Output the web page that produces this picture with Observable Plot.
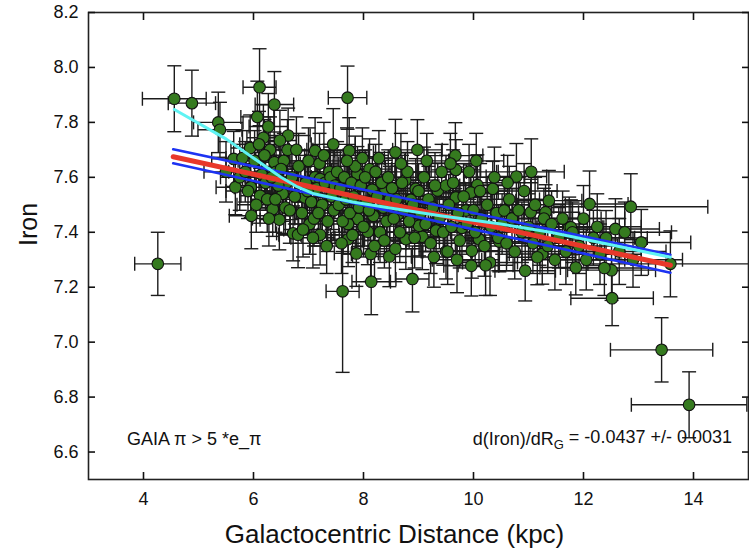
<!DOCTYPE html>
<html><head><meta charset="utf-8">
<script src="https://cdn.jsdelivr.net/npm/d3@7"></script>
<script src="https://cdn.jsdelivr.net/npm/@observablehq/plot@0.6"></script>
<style>body{margin:0;background:#fff} svg{display:block}</style>
</head><body><div id="chart"></div>
<script>
// rows: [distance kpc, iron, distance error, iron error]
const outliers = [
  [4.26,7.285,0.42,0.115],[4.56,7.886,0.58,0.12],[4.88,7.870,0.43,0.12],
  [13.42,6.972,0.93,0.117],[13.92,6.772,1.05,0.12],[13.58,7.285,1.5,0.12],
  [7.71,7.890,0.35,0.115],[7.62,7.185,0.30,0.295],[6.11,7.928,0.30,0.14],
  [6.38,7.865,0.35,0.12],[5.36,7.800,0.45,0.11],[5.39,7.773,0.40,0.10]
];
const innerDisk = [
  [6.07,7.820,0.30,0.13],[6.27,7.785,0.35,0.12],[6.18,7.744,0.30,0.12],[6.63,7.752,0.40,0.10],
  [6.48,7.734,0.30,0.11],[5.94,7.707,0.35,0.12],[5.64,7.667,0.40,0.10],[6.38,7.655,0.30,0.11],
  [5.67,7.564,0.35,0.10],[5.95,7.564,0.30,0.11],[6.12,7.533,0.35,0.10],[5.96,7.460,0.40,0.12],
  [6.35,7.485,0.30,0.10],[6.47,7.446,0.35,0.11],[6.72,7.396,0.30,0.10],[6.81,7.391,0.35,0.12],
  [6.53,7.540,0.30,0.10],[6.93,7.527,0.40,0.11],[7.12,7.697,0.35,0.12],[7.12,7.600,0.30,0.10],
  [7.02,7.430,0.35,0.11],[7.45,7.720,0.40,0.13],[7.21,7.594,0.35,0.10],[7.21,7.391,0.35,0.11],
  [5.50,7.620,0.40,0.11],[5.75,7.600,0.35,0.12],[5.80,7.670,0.30,0.10],
  [6.02,7.66,0.30,0.11],[6.15,7.61,0.35,0.12],[6.22,7.58,0.30,0.10],[6.30,7.70,0.35,0.12],
  [6.41,7.62,0.30,0.11],[6.55,7.66,0.40,0.10],[6.60,7.58,0.35,0.12],[5.85,7.62,0.30,0.11],
  [6.05,7.50,0.35,0.10],[6.25,7.52,0.30,0.12],[6.45,7.57,0.35,0.11],[6.58,7.49,0.30,0.10],
  [6.20,7.68,0.35,0.13],[6.33,7.60,0.30,0.11],[6.10,7.72,0.35,0.12],[5.90,7.55,0.40,0.10],
  [6.50,7.63,0.30,0.11],[6.40,7.52,0.35,0.12],[6.28,7.45,0.30,0.10],[6.62,7.70,0.35,0.11]
];
const solarCircle = [
  [6.70,7.60,0.35,0.11],[6.75,7.53,0.30,0.10],[6.82,7.64,0.35,0.12],[6.88,7.47,0.40,0.11],
  [6.95,7.58,0.30,0.10],[7.00,7.66,0.35,0.12],[7.05,7.51,0.30,0.11],[7.10,7.45,0.35,0.10],
  [7.15,7.56,0.40,0.12],[7.20,7.65,0.35,0.11],[7.25,7.50,0.30,0.10],[7.30,7.58,0.35,0.12],
  [7.35,7.44,0.40,0.11],[7.38,7.62,0.35,0.10],[7.42,7.53,0.30,0.12],[7.46,7.48,0.35,0.11],
  [6.78,7.70,0.30,0.12],[6.90,7.41,0.35,0.10],[7.08,7.38,0.40,0.11],[7.28,7.68,0.35,0.12],
  [7.33,7.35,0.30,0.10],[7.40,7.60,0.35,0.11],[6.66,7.48,0.30,0.12],[6.98,7.55,0.35,0.10],
  [7.18,7.47,0.40,0.11],[7.48,7.57,0.35,0.12],
  [7.74,7.697,0.35,0.12],[8.11,7.630,0.40,0.11],[7.89,7.612,0.35,0.10],[8.40,7.552,0.40,0.11],
  [8.16,7.555,0.35,0.12],[7.90,7.448,0.35,0.10],[7.72,7.430,0.40,0.11],[8.08,7.402,0.35,0.12],
  [7.72,7.375,0.30,0.10],[7.87,7.323,0.40,0.12],[8.13,7.321,0.35,0.10],[8.47,7.312,0.40,0.11],
  [8.14,7.220,0.35,0.12],
  [7.52,7.62,0.35,0.11],[7.55,7.50,0.40,0.10],[7.58,7.56,0.35,0.12],[7.62,7.44,0.40,0.11],
  [7.65,7.60,0.35,0.10],[7.68,7.52,0.40,0.12],[7.75,7.47,0.35,0.11],[7.78,7.58,0.40,0.10],
  [7.82,7.53,0.35,0.12],[7.85,7.64,0.40,0.11],[7.92,7.49,0.35,0.10],[7.95,7.57,0.40,0.12],
  [8.00,7.42,0.35,0.11],[8.03,7.60,0.40,0.10],[8.06,7.51,0.35,0.12],[8.18,7.46,0.40,0.11],
  [8.22,7.62,0.35,0.10],[8.25,7.53,0.40,0.12],[8.30,7.40,0.35,0.11],[8.33,7.58,0.40,0.10],
  [8.36,7.49,0.35,0.12],[8.42,7.44,0.40,0.11],[8.45,7.60,0.35,0.10],[8.48,7.52,0.40,0.12],
  [7.60,7.36,0.35,0.11],[7.80,7.39,0.40,0.10],[8.20,7.35,0.35,0.12],[7.98,7.67,0.40,0.11],
  [8.28,7.67,0.35,0.10],[7.70,7.66,0.40,0.12],[8.10,7.48,0.35,0.11],[8.38,7.37,0.40,0.10]
];
const midDisk = [
  [8.58,7.691,0.40,0.12],[8.98,7.700,0.45,0.11],[8.76,7.589,0.40,0.10],[8.86,7.518,0.45,0.10],
  [8.95,7.558,0.40,0.11],[8.89,7.230,0.30,0.12],[8.63,7.466,0.40,0.10],[8.77,7.375,0.45,0.11],
  [9.07,7.384,0.40,0.12],[9.50,7.330,0.45,0.10],[9.01,7.424,0.40,0.11],[9.32,7.406,0.45,0.12],
  [9.35,7.552,0.40,0.10],[9.50,7.570,0.45,0.11],[9.67,7.679,0.50,0.12],[9.68,7.627,0.45,0.11],
  [10.07,7.572,0.50,0.11],[10.35,7.558,0.50,0.10],[9.68,7.527,0.45,0.11],[9.95,7.545,0.50,0.10],
  [9.86,7.479,0.45,0.10],[9.79,7.416,0.50,0.12],[10.10,7.375,0.50,0.10],[10.47,7.366,0.55,0.11],
  [9.53,7.330,0.45,0.12],[9.97,7.333,0.50,0.10],[9.96,7.278,0.50,0.11],[10.30,7.290,0.50,0.12],
  [8.52,7.56,0.40,0.11],[8.55,7.45,0.45,0.10],[8.60,7.52,0.40,0.12],[8.66,7.40,0.45,0.11],
  [8.70,7.58,0.40,0.10],[8.73,7.48,0.45,0.12],[8.80,7.62,0.40,0.11],[8.83,7.44,0.45,0.10],
  [8.90,7.50,0.40,0.12],[8.93,7.38,0.45,0.11],[9.00,7.55,0.40,0.10],[9.04,7.47,0.45,0.12],
  [9.10,7.60,0.40,0.11],[9.13,7.43,0.45,0.10],[9.18,7.52,0.40,0.12],[9.22,7.36,0.45,0.11],
  [9.26,7.49,0.40,0.10],[9.30,7.57,0.45,0.12],[9.38,7.45,0.40,0.11],[9.42,7.62,0.45,0.10],
  [9.45,7.40,0.40,0.12],[8.68,7.65,0.45,0.11],[9.15,7.66,0.40,0.10],[8.58,7.34,0.45,0.12],
  [9.28,7.31,0.40,0.11],
  [9.55,7.50,0.45,0.11],[9.60,7.42,0.50,0.10],[9.63,7.58,0.45,0.12],[9.72,7.47,0.50,0.11],
  [9.75,7.37,0.45,0.10],[9.82,7.53,0.50,0.12],[9.88,7.43,0.45,0.11],[9.92,7.62,0.50,0.10],
  [10.00,7.48,0.50,0.12],[10.03,7.40,0.45,0.11],[10.12,7.55,0.50,0.10],[10.15,7.45,0.55,0.12],
  [10.20,7.35,0.50,0.11],[10.25,7.50,0.55,0.10],[10.32,7.42,0.50,0.12],[10.38,7.60,0.55,0.11],
  [10.42,7.47,0.50,0.10],[10.45,7.38,0.55,0.12],[9.58,7.65,0.45,0.11],[10.05,7.66,0.50,0.10],
  [9.70,7.30,0.45,0.12],[10.22,7.28,0.50,0.11]
];
const outerDisk = [
  [10.78,7.603,0.55,0.12],[11.37,7.515,0.60,0.11],[11.04,7.473,0.55,0.12],[11.31,7.473,0.60,0.10],
  [10.56,7.479,0.50,0.11],[11.74,7.418,0.60,0.11],[11.25,7.321,0.60,0.11],[11.16,7.309,0.55,0.10],
  [10.94,7.260,0.55,0.11],[11.86,7.272,0.65,0.10],[12.11,7.503,0.70,0.12],[12.86,7.493,1.40,0.12],
  [12.58,7.412,0.80,0.11],[12.41,7.379,0.75,0.10],[13.05,7.363,0.90,0.12],[11.77,7.418,0.60,0.10],
  [12.51,7.262,0.80,0.11],[12.52,7.160,0.75,0.10],
  [10.52,7.43,0.55,0.11],[10.60,7.36,0.50,0.10],[10.65,7.52,0.55,0.12],[10.70,7.45,0.60,0.11],
  [10.75,7.33,0.55,0.10],[10.82,7.48,0.60,0.12],[10.88,7.40,0.55,0.11],[10.92,7.55,0.60,0.10],
  [11.00,7.42,0.55,0.12],[11.08,7.36,0.60,0.11],[11.12,7.50,0.55,0.10],[11.20,7.40,0.60,0.12],
  [11.28,7.45,0.65,0.11],[11.35,7.35,0.60,0.10],[11.42,7.43,0.65,0.12],[11.48,7.30,0.60,0.11],
  [10.62,7.58,0.55,0.10],[11.05,7.62,0.60,0.12],
  [11.55,7.38,0.65,0.11],[11.62,7.45,0.70,0.10],[11.68,7.33,0.65,0.12],[11.80,7.40,0.70,0.11],
  [11.92,7.35,0.70,0.10],[12.00,7.45,0.75,0.12],[12.05,7.30,0.70,0.11],[12.18,7.38,0.75,0.10],
  [12.25,7.42,0.80,0.12],[12.30,7.32,0.75,0.11],[12.38,7.27,0.80,0.10],[12.65,7.33,0.85,0.12],
  [12.75,7.40,0.85,0.11],[12.90,7.30,0.90,0.10]
];
// fitted gradient, its error band and the running mean
const fitLine   = [[4.54,7.675],[13.58,7.280]];
const bandUpper = [[4.54,7.702],[13.58,7.318]];
const bandLower = [[4.54,7.651],[13.58,7.253]];
const runningMean = [[4.56,7.847],[5.5,7.74],[6.5,7.60],[6.8,7.565],[7.1,7.54],[7.8,7.51],
  [8.6,7.485],[9.4,7.46],[10.5,7.43],[11.4,7.40],[12.3,7.363],[13.58,7.309]];
const xTicks = [4,6,8,10,12,14];
const yTicks = [6.6,6.8,7.0,7.2,7.4,7.6,7.8,8.0,8.2];
const xLabel = "Galactocentric Distance (kpc)";
const yLabel = "Iron";
const noteLeft = "GAIA π > 5 *e_π";
const noteRight = "d(Iron)/dR_G = -0.0437 +/- 0.0031";

const rows = [...outliers, ...innerDisk, ...solarCircle, ...midDisk, ...outerDisk]
  .map(([x,y,xe,ye]) => ({x,y,xe,ye}));

const hcap = {draw(ctx){ctx.moveTo(-7,0);ctx.lineTo(7,0);}};
const vcap = {draw(ctx){ctx.moveTo(0,-7);ctx.lineTo(0,7);}};
const ink = "#1c1c1c";

const plot = Plot.plot({
  width: 749, height: 552,
  marginLeft: 88, marginRight: 1, marginTop: 12, marginBottom: 73,
  style: {fontFamily: "'Liberation Sans', Arial, Helvetica, sans-serif", fontSize: "18px", background: "#fff", color: "#111"},
  x: {domain: [3, 15]},
  y: {domain: [6.5, 8.2]},
  marks: [
    Plot.link(rows, {x1: d => d.x - d.xe, x2: d => d.x + d.xe, y1: "y", y2: "y", stroke: ink, strokeWidth: 1.4, clip: true}),
    Plot.link(rows, {x1: "x", x2: "x", y1: d => d.y - d.ye, y2: d => d.y + d.ye, stroke: ink, strokeWidth: 1.4, clip: true}),
    Plot.dot(rows, {x: d => d.x - d.xe, y: "y", symbol: vcap, r: 3, stroke: ink, strokeWidth: 1.4, fill: "none", clip: true}),
    Plot.dot(rows, {x: d => d.x + d.xe, y: "y", symbol: vcap, r: 3, stroke: ink, strokeWidth: 1.4, fill: "none", clip: true}),
    Plot.dot(rows, {x: "x", y: d => d.y - d.ye, symbol: hcap, r: 3, stroke: ink, strokeWidth: 1.4, fill: "none", clip: true}),
    Plot.dot(rows, {x: "x", y: d => d.y + d.ye, symbol: hcap, r: 3, stroke: ink, strokeWidth: 1.4, fill: "none", clip: true}),
    Plot.dot(rows, {x: "x", y: "y", r: 5.8, fill: "#357a1f", stroke: "#111", strokeWidth: 1.1}),
    Plot.line(bandUpper, {x: "0", y: "1", stroke: "#1d33f2", strokeWidth: 2.6}),
    Plot.line(bandLower, {x: "0", y: "1", stroke: "#1d33f2", strokeWidth: 2.6}),
    Plot.line(fitLine, {x: "0", y: "1", stroke: "#e8382a", strokeWidth: 5}),
    Plot.line(runningMean, {x: "0", y: "1", stroke: "#5ff3f3", strokeWidth: 3}),
    Plot.frame({stroke: "#222", strokeWidth: 1.6}),
    Plot.axisX({anchor: "bottom", ticks: xTicks, tickSize: -7, tickPadding: 20, label: null, strokeWidth: 1.6}),
    Plot.axisX({anchor: "top", ticks: xTicks, tickSize: -7, tickFormat: () => "", label: null, strokeWidth: 1.6}),
    Plot.axisY({anchor: "left", ticks: yTicks, tickSize: -7, tickPadding: 17, tickFormat: d3.format(".1f"), label: null, strokeWidth: 1.6}),
    Plot.axisY({anchor: "right", ticks: yTicks, tickSize: -7, tickFormat: () => "", label: null, strokeWidth: 1.6}),
    Plot.text([xLabel], {frameAnchor: "bottom", dx: -24, dy: 63, fontSize: 26, fill: "#111"}),
    Plot.text([yLabel], {frameAnchor: "left", dx: -60, rotate: -90, fontSize: 25, fill: "#111"}),
    Plot.text([noteLeft], {x: 3.70, y: 6.648, textAnchor: "start", fontSize: 18, fill: "#111"}),
    Plot.text([noteRight], {x: 14.70, y: 6.648, textAnchor: "end", fontSize: 18, fill: "#111"})
  ]
});

// subscript G in the gradient annotation
d3.select(plot).selectAll("text").each(function() {
  const t = this.textContent;
  if (t === noteRight) {
    const s = d3.select(this).text("");
    const [a, b] = t.split("_G");
    s.append("tspan").text(a);
    s.append("tspan").attr("font-size", 13).attr("dy", "0.35em").text("G");
    s.append("tspan").attr("dy", "-0.35em").text(b);
  }
});

document.getElementById("chart").appendChild(plot);
</script>
</body></html>
